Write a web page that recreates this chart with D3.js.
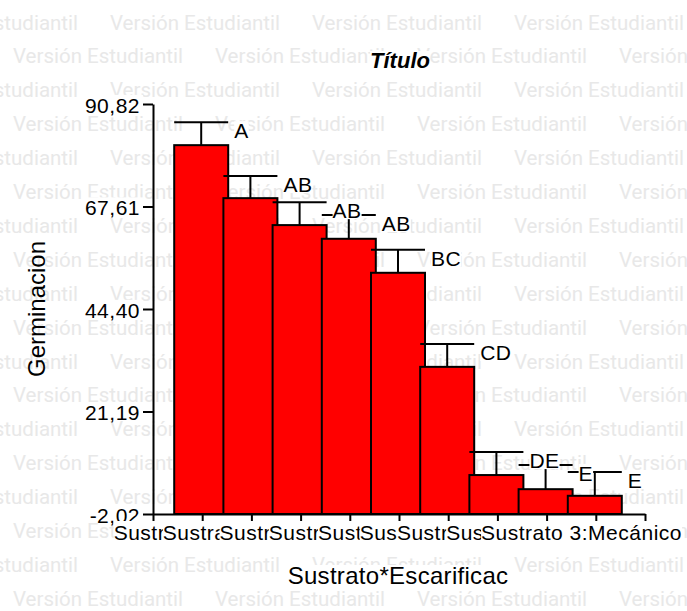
<!DOCTYPE html>
<html>
<head>
<meta charset="utf-8">
<script src="https://cdn.jsdelivr.net/npm/d3@7"></script>
<style>
  body { margin: 0; background: #fff; }
  svg { display: block; font-family: "Liberation Sans", Arial, sans-serif; }
</style>
</head>
<body>
<svg width="687" height="611"></svg>
<script>
// bar categories (Sustrato*Escarificac), sorted by mean
const categories = ["Sustrato 2:Testigo", "Sustrato 1:Testigo", "Sustrato 2:Ácido",
                    "Sustrato 1:Ácido", "Sustrato 3:Ácido", "Sustrato 3:Testigo",
                    "Sustrato 1:Mecánico", "Sustrato 2:Mecánico", "Sustrato 3:Mecánico"];
const means = [81.5, 69.5, 63.4, 60.3, 52.6, 31.3, 6.8, 3.6, 2.1];
const upper = [86.7, 74.5, 68.6, 65.7, 57.8, 36.5, 12.0, 9.1, 7.5];
const letters = ["A", "AB", "AB", "AB", "BC", "CD", "DE", "E", "E"];
const yTicks = [-2.02, 21.19, 44.40, 67.61, 90.82];

const chart = d3.select("svg");
const W = 687, H = 611;

const yScale = d3.scaleLinear().domain([-2.02, 90.82]).range([514, 104]);
const xScale = d3.scaleLinear().domain([0, 10]).range([153, 645]);

// watermark rows
const wm = chart.append("g")
                .style("font-family", "Roboto, sans-serif")
                .attr("font-size", 20.5)
                .attr("fill", "#e8e8e8");
for (let k = 0; k < 18; ++k) {
    let x0 = (k % 2 === 0) ? -92 : 13;
    for (let x = x0; x < W; x += 202) {
        wm.append("text")
          .attr("x", x).attr("y", 29.5 + 33.9 * k)
          .text("Versión Estudiantil");
    }
}

// white box behind a text node
function boxBehind(sel, padX, padTop, padBot) {
    sel.each(function () {
        let b = this.getBBox();
        d3.select(this.parentNode).insert("rect", () => this)
          .attr("x", b.x - padX).attr("y", b.y - padTop)
          .attr("width", b.width + 2 * padX).attr("height", b.height + padTop + padBot)
          .attr("fill", "#fff");
    });
}

// bars + error bars
const plot = chart.append("g");
const groups = plot.selectAll("g.bar")
                   .data(means)
                   .join("g")
                   .attr("class", "bar");

groups.append("rect")
      .attr("x", (d, i) => xScale(i + 1) - 28)
      .attr("y", (d) => yScale(d))
      .attr("width", 54)
      .attr("height", (d) => yScale(-2.02) - yScale(d))
      .attr("fill", "#ff0000")
      .attr("stroke", "#000")
      .attr("stroke-width", 2);

groups.append("line")
      .attr("x1", (d, i) => xScale(i + 1) - 1)
      .attr("x2", (d, i) => xScale(i + 1) - 1)
      .attr("y1", (d) => yScale(d))
      .attr("y2", (d, i) => yScale(upper[i]))
      .attr("stroke", "#000").attr("stroke-width", 2);

groups.append("line")
      .attr("x1", (d, i) => xScale(i + 1) - 28)
      .attr("x2", (d, i) => xScale(i + 1) + 26)
      .attr("y1", (d, i) => yScale(upper[i]))
      .attr("y2", (d, i) => yScale(upper[i]))
      .attr("stroke", "#000").attr("stroke-width", 2);

// significance letters
const letterG = plot.selectAll("g.let")
                    .data(letters)
                    .join("g")
                    .attr("class", "let");
letterG.append("text")
       .attr("x", (d, i) => xScale(i + 1) + 32)
       .attr("y", (d, i) => yScale(upper[i]) + 16)
       .attr("font-size", 21)
       .attr("letter-spacing", 0.5)
       .attr("fill", "#000")
       .text((d) => d)
       .call(boxBehind, 0, -2, -3);

// y axis
const yAxis = chart.append("g")
                   .attr("transform", "translate(153,0)")
                   .call(d3.axisLeft(yScale)
                           .tickValues(yTicks)
                           .tickFormat((d) => d.toFixed(2).replace(".", ","))
                           .tickSize(10)
                           .tickSizeOuter(0));
yAxis.attr("font-family", null);
yAxis.select(".domain").attr("stroke-width", 2);
yAxis.selectAll(".tick line").attr("stroke-width", 2);
yAxis.selectAll(".tick text")
     .attr("font-size", 21)
     .attr("letter-spacing", 0.5)
     .attr("fill", "#000")
     .attr("x", -13)
     .attr("dy", "0.4em")
     .call(boxBehind, 3, -1, -4);

// x axis
const xAxis = chart.append("g")
                   .attr("transform", "translate(0,514)")
                   .call(d3.axisBottom(xScale)
                           .tickValues(d3.range(0, 11))
                           .tickFormat("")
                           .tickSize(9)
                           .tickSizeOuter(0));
xAxis.select(".domain").attr("stroke-width", 2);
xAxis.selectAll(".tick line").attr("stroke-width", 2);

// category labels, each one over the previous one
const catG = chart.append("g");
categories.forEach((c, i) => {
    let g = catG.append("g");
    let t = g.append("text")
             .attr("x", xScale(i + 1))
             .attr("y", 540)
             .attr("text-anchor", "middle")
             .attr("font-size", 21)
             .attr("letter-spacing", 0.5)
             .attr("fill", "#000")
             .text(c);
    let w = t.node().getBBox().width;
    if (xScale(i + 1) + w / 2 > W - 5) t.attr("x", W - 5 - w / 2);
    t.call(boxBehind, 0, 0, 0);
});

// axis titles
chart.append("g").append("text")
     .attr("x", 398).attr("y", 584)
     .attr("text-anchor", "middle")
     .attr("font-size", 24)
     .attr("letter-spacing", 0.3)
     .text("Sustrato*Escarificac")
     .call(boxBehind, 0, -3, -4);

chart.append("g").append("text")
     .attr("transform", "translate(45,309) rotate(-90)")
     .attr("text-anchor", "middle")
     .attr("font-size", 24)
     .text("Germinacion")
     .call(boxBehind, 0, -3, -5);

// title
chart.append("g").append("text")
     .attr("x", 400).attr("y", 68)
     .attr("text-anchor", "middle")
     .attr("font-size", 22)
     .attr("font-weight", "bold")
     .attr("font-style", "italic")
     .text("Título")
     .call(boxBehind, 0, -3, -4);
</script>
</body>
</html>
